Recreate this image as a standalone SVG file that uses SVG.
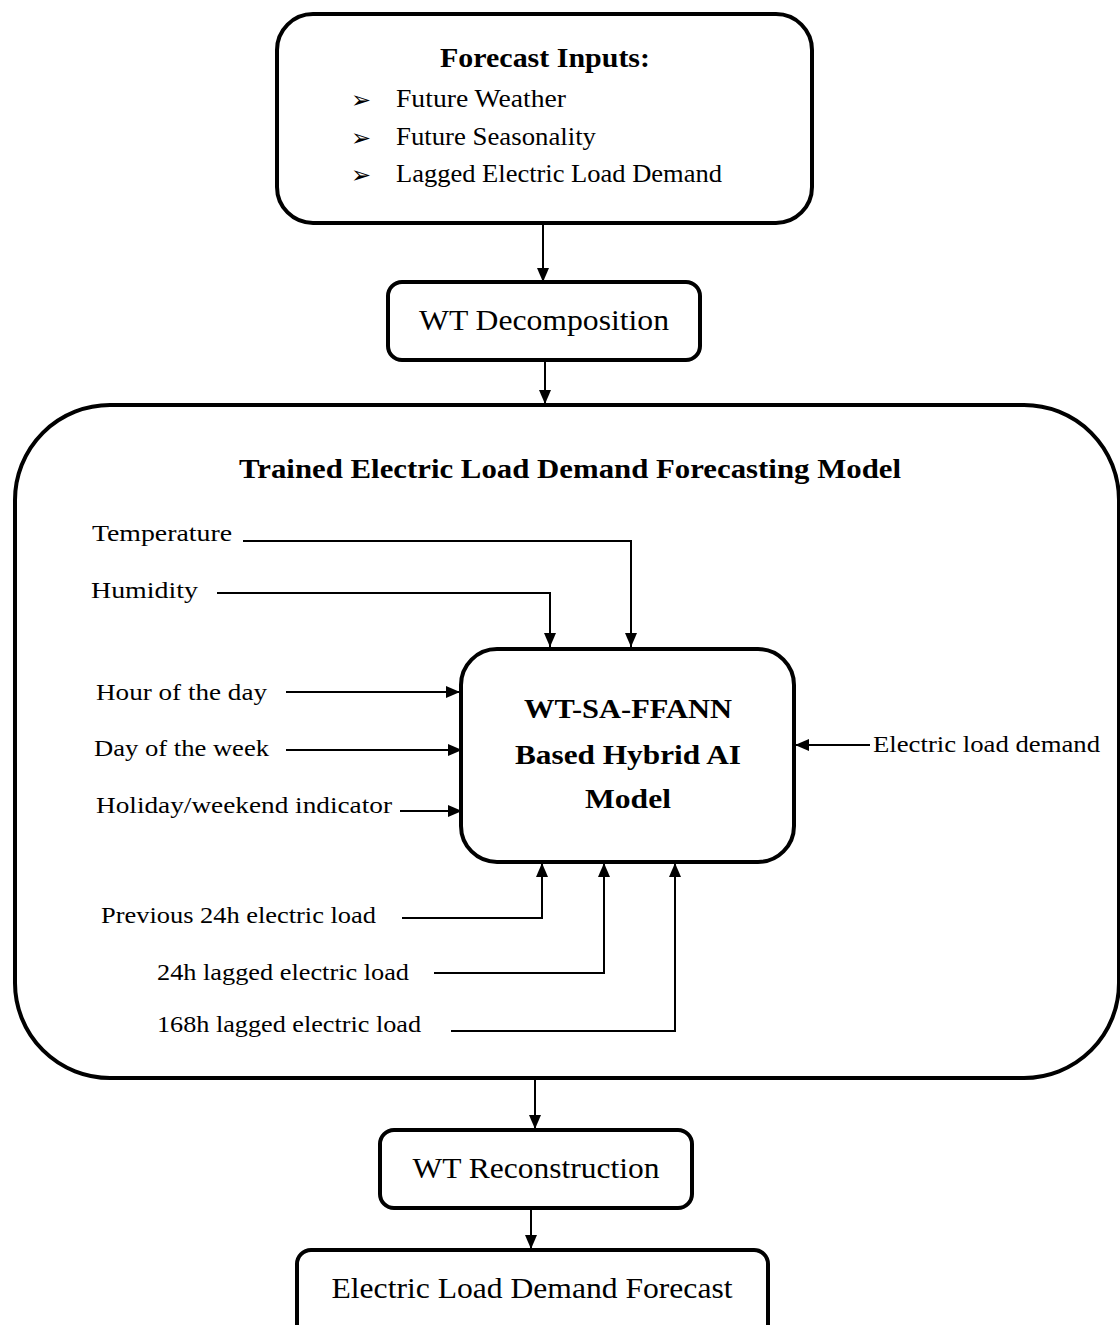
<svg xmlns="http://www.w3.org/2000/svg" width="1120" height="1325" viewBox="0 0 1120 1325">
<defs>
<marker id="ah" viewBox="0 0 14 12" refX="14" refY="6" markerWidth="14" markerHeight="12" markerUnits="userSpaceOnUse" orient="auto">
<path d="M0,0 L14,6 L0,12 Z" fill="#000"/>
</marker>
</defs>
<style>
.box{fill:#fff;stroke:#000;stroke-width:4}
.t{font-family:"Liberation Serif","DejaVu Serif",serif;fill:#000}
.b{font-weight:bold}
.bul{font-family:"DejaVu Sans",sans-serif;font-size:24px;fill:#000}
.c{fill:none;stroke:#000;stroke-width:2}
</style>
<rect width="1120" height="1325" fill="#fff"/>
<g id="forecast-inputs">
<rect class="box" x="277" y="14" width="535" height="209" rx="36"/>
<text class="t b" x="545" y="67" font-size="28" text-anchor="middle" textLength="210" lengthAdjust="spacingAndGlyphs">Forecast Inputs:</text>
<text class="bul" x="351" y="108">➢</text>
<text class="bul" x="351" y="146">➢</text>
<text class="bul" x="351" y="183">➢</text>
<text class="t" x="396" y="107" font-size="25" textLength="170" lengthAdjust="spacingAndGlyphs">Future Weather</text>
<text class="t" x="396" y="145" font-size="25" textLength="200" lengthAdjust="spacingAndGlyphs">Future Seasonality</text>
<text class="t" x="396" y="182" font-size="25" textLength="326" lengthAdjust="spacingAndGlyphs">Lagged Electric Load Demand</text>
</g>
<g id="wt-decomposition">
<rect class="box" x="388" y="282" width="312" height="78" rx="14"/>
<text class="t" x="544" y="330" font-size="29" text-anchor="middle" textLength="250" lengthAdjust="spacingAndGlyphs">WT Decomposition</text>
</g>
<g id="trained-model">
<rect class="box" x="15" y="405" width="1104" height="673" rx="95"/>
<text class="t b" x="570" y="478" font-size="27" text-anchor="middle" textLength="662" lengthAdjust="spacingAndGlyphs">Trained Electric Load Demand Forecasting Model</text>
</g>
<g id="hybrid-ai-model">
<rect class="box" x="461" y="649" width="333" height="213" rx="36"/>
<text class="t b" x="628" y="718" font-size="28" text-anchor="middle" textLength="208" lengthAdjust="spacingAndGlyphs">WT-SA-FFANN</text>
<text class="t b" x="628" y="764" font-size="28" text-anchor="middle" textLength="226" lengthAdjust="spacingAndGlyphs">Based Hybrid AI</text>
<text class="t b" x="628" y="808" font-size="28" text-anchor="middle" textLength="86" lengthAdjust="spacingAndGlyphs">Model</text>
</g>
<g id="labels">
<text class="t" x="92" y="541" font-size="24" textLength="140" lengthAdjust="spacingAndGlyphs">Temperature</text>
<text class="t" x="91" y="598" font-size="24" textLength="107" lengthAdjust="spacingAndGlyphs">Humidity</text>
<text class="t" x="96" y="700" font-size="24" textLength="171" lengthAdjust="spacingAndGlyphs">Hour of the day</text>
<text class="t" x="94" y="756" font-size="24" textLength="175" lengthAdjust="spacingAndGlyphs">Day of the week</text>
<text class="t" x="96" y="813" font-size="24" textLength="296" lengthAdjust="spacingAndGlyphs">Holiday/weekend indicator</text>
<text class="t" x="873" y="752" font-size="24" textLength="227" lengthAdjust="spacingAndGlyphs">Electric load demand</text>
<text class="t" x="101" y="923" font-size="24" textLength="275" lengthAdjust="spacingAndGlyphs">Previous 24h electric load</text>
<text class="t" x="157" y="980" font-size="24" textLength="252" lengthAdjust="spacingAndGlyphs">24h lagged electric load</text>
<text class="t" x="157" y="1032" font-size="24" textLength="264" lengthAdjust="spacingAndGlyphs">168h lagged electric load</text>
</g>
<g id="wt-reconstruction">
<rect class="box" x="380" y="1130" width="312" height="78" rx="14"/>
<text class="t" x="536" y="1178" font-size="29" text-anchor="middle" textLength="247" lengthAdjust="spacingAndGlyphs">WT Reconstruction</text>
</g>
<g id="final-forecast">
<rect class="box" x="297" y="1250" width="471" height="100" rx="14"/>
<text class="t" x="532" y="1298" font-size="29" text-anchor="middle" textLength="401" lengthAdjust="spacingAndGlyphs">Electric Load Demand Forecast</text>
</g>
<g id="connectors">
<path class="c" d="M543,224 V282" marker-end="url(#ah)"/>
<path class="c" d="M545,361 V404" marker-end="url(#ah)"/>
<path class="c" d="M535,1079 V1129" marker-end="url(#ah)"/>
<path class="c" d="M531,1209 V1249" marker-end="url(#ah)"/>
<path class="c" d="M243,541 H631 V647" marker-end="url(#ah)"/>
<path class="c" d="M217,593 H550 V647" marker-end="url(#ah)"/>
<path class="c" d="M286,692 H460" marker-end="url(#ah)"/>
<path class="c" d="M286,750 H462" marker-end="url(#ah)"/>
<path class="c" d="M400,811 H462" marker-end="url(#ah)"/>
<path class="c" d="M870,745 H795" marker-end="url(#ah)"/>
<path class="c" d="M402,918 H542 V863" marker-end="url(#ah)"/>
<path class="c" d="M434,973 H604 V863" marker-end="url(#ah)"/>
<path class="c" d="M451,1031 H675 V863" marker-end="url(#ah)"/>
</g>
</svg>
